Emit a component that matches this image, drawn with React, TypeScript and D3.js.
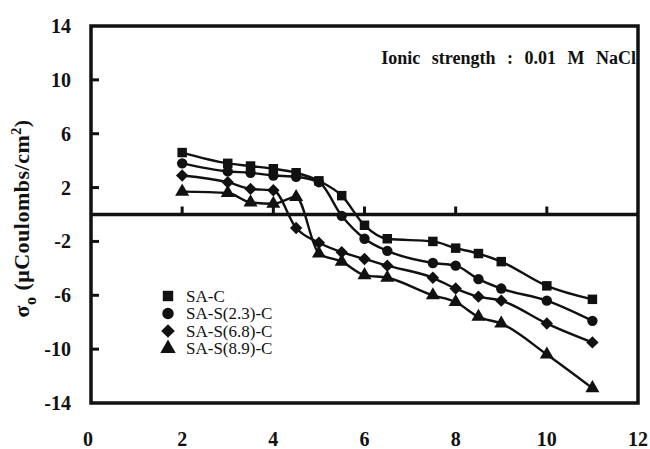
import React from "react";
import * as d3 from "d3";

const xValues = [2, 3, 3.5, 4, 4.5, 5, 5.5, 6, 6.5, 7.5, 8, 8.5, 9, 10, 11];
const seriesNames = ["SA-C", "SA-S(2.3)-C", "SA-S(6.8)-C", "SA-S(8.9)-C"];
const seriesShapes = ["square", "circle", "diamond", "triangle"];
const saC = [4.6, 3.8, 3.6, 3.4, 3.1, 2.5, 1.4, -0.8, -1.8, -2.0, -2.5, -2.9, -3.5, -5.3, -6.3];
const saS23C = [3.8, 3.2, 3.1, 2.9, 2.8, 2.4, -0.1, -1.8, -2.7, -3.6, -3.8, -4.8, -5.5, -6.4, -7.9];
const saS68C = [2.9, 2.4, 1.9, 1.8, -1.0, -2.1, -2.8, -3.3, -3.8, -4.7, -5.5, -6.1, -6.4, -8.1, -9.5];
const saS89C = [1.7, 1.6, 0.9, 0.8, 1.3, -2.9, -3.5, -4.5, -4.7, -6.0, -6.5, -7.6, -8.1, -10.4, -12.9];
const allSeries = [saC, saS23C, saS68C, saS89C];
const xTicks = [0, 2, 4, 6, 8, 10, 12];
const yTicks = [14, 10, 6, 2, -2, -6, -10, -14];
const zeroTicks = [2, 4, 6, 8, 10];
const note = "Ionic strength : 0.01 M NaCl";

const FONT = "'Liberation Serif', 'Times New Roman', serif";

function Marker({ shape, x, y, scale = 1 }: { shape: string; x: number; y: number; scale?: number }) {
  let d = "";
  if (shape === "diamond") {
    const r = 6.2 * scale;
    d = `M0,${-r}L${r},0L0,${r}L${-r},0Z`;
  } else {
    const sym =
      shape === "square" ? d3.symbolSquare :
      shape === "circle" ? d3.symbolCircle : d3.symbolTriangle;
    const size = (shape === "square" ? 90 : shape === "circle" ? 85 : 85) * scale * scale;
    d = d3.symbol().type(sym).size(size)() || "";
  }
  return <path d={d} transform={`translate(${x},${y})`} fill="#111" />;
}

export default function App() {
  const W = 650, H = 449;
  const x = d3.scaleLinear().domain([0, 12]).range([91, 638]);
  const y = d3.scaleLinear().domain([-14, 14]).range([403, 26]);
  const line = d3
    .line<[number, number]>()
    .x((d) => x(d[0]))
    .y((d) => y(d[1]))
    .curve(d3.curveMonotoneX);

  return (
    <svg width={W} height={H} style={{ position: "absolute", left: 0, top: 0, background: "#fff" }}>
      <rect x={0} y={0} width={W} height={H} fill="#fff" />
      {/* frame */}
      <rect x={x(0)} y={y(14)} width={x(12) - x(0)} height={y(-14) - y(14)} fill="none" stroke="#111" strokeWidth={3.5} />
      {/* zero line */}
      <line x1={x(0)} x2={x(12)} y1={y(0)} y2={y(0)} stroke="#111" strokeWidth={3.5} />
      {zeroTicks.map((t) => (
        <line key={"zt" + t} x1={x(t)} x2={x(t)} y1={y(0)} y2={y(0) - 8} stroke="#111" strokeWidth={3} />
      ))}
      {yTicks.filter((t) => t !== 14 && t !== -14).map((t) => (
        <line key={"yt" + t} x1={x(0)} x2={x(0) + 8} y1={y(t)} y2={y(t)} stroke="#111" strokeWidth={3} />
      ))}
      {/* y tick labels */}
      {yTicks.map((t) => (
        <text key={"yl" + t} x={71} y={y(t)} dy="0.35em" textAnchor="end" fontFamily={FONT} fontWeight="bold" fontSize={20} fill="#111">
          {t}
        </text>
      ))}
      {/* x tick labels */}
      {xTicks.map((t) => (
        <text key={"xl" + t} x={x(t) - (t === 0 ? 3 : 0)} y={446} textAnchor="middle" fontFamily={FONT} fontWeight="bold" fontSize={20} fill="#111">
          {t}
        </text>
      ))}
      {/* y axis title */}
      <text transform={`translate(29,${y(0) + 4}) rotate(-90)`} textAnchor="middle" fontFamily={FONT} fontWeight="bold" fontSize={22} fill="#111" letterSpacing="0.5">
        σ<tspan fontSize={16} dy={7}>o</tspan>
        <tspan dy={-7}> (μCoulombs/cm</tspan>
        <tspan fontSize={14} dy={-8}>2</tspan>
        <tspan dy={8}>)</tspan>
      </text>
      {/* series */}
      {allSeries.map((vals, i) => {
        const pts = xValues.map((xv, j) => [xv, vals[j]] as [number, number]);
        return (
          <g key={"s" + i}>
            <path d={line(pts) || ""} fill="none" stroke="#111" strokeWidth={2.4} />
            {pts.map((p, j) => (
              <Marker key={j} shape={seriesShapes[i]} x={x(p[0])} y={y(p[1])} />
            ))}
          </g>
        );
      })}
      {/* legend */}
      {seriesNames.map((n, i) => (
        <g key={"lg" + i}>
          <Marker shape={seriesShapes[i]} x={168} y={296 + i * 17.5} scale={1.1} />
          <text x={186} y={296 + i * 17.5} dy="0.33em" fontFamily={FONT} fontSize={17} fill="#111">
            {n}
          </text>
        </g>
      ))}
      {/* annotation */}
      <text x={636} y={64} textAnchor="end" fontFamily={FONT} fontWeight="bold" fontSize={18} fill="#111" style={{ wordSpacing: "7px" }}>
        {note}
      </text>
    </svg>
  );
}
